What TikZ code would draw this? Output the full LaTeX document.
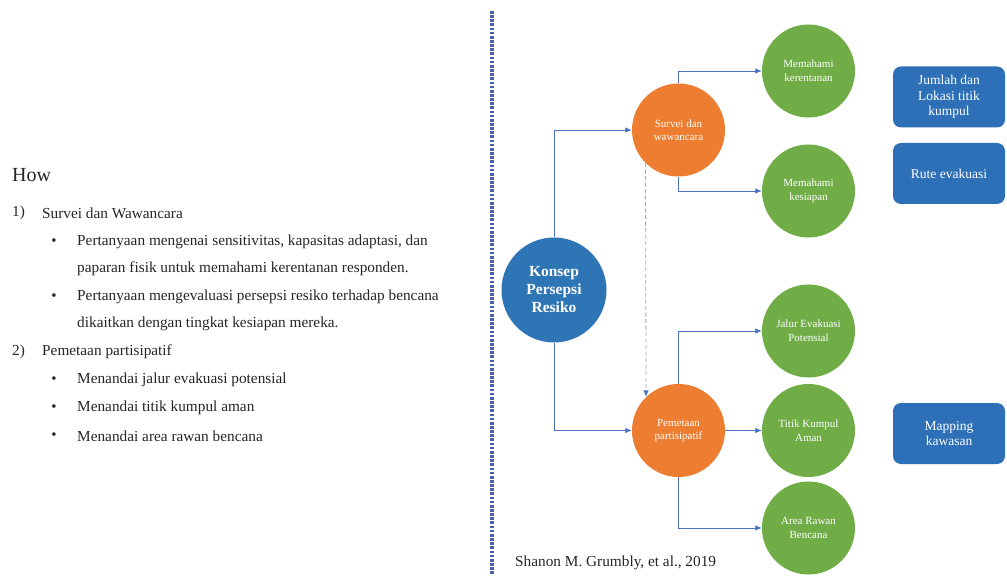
\documentclass[tikz,border=0pt]{standalone}
\usepackage{fontspec}
\setmainfont{Liberation Serif}
\usetikzlibrary{arrows.meta}
\definecolor{konsepblue}{HTML}{2E75B6}
\definecolor{boxblue}{HTML}{2E70B8}
\definecolor{stepor}{HTML}{ED7D31}
\definecolor{stepgreen}{HTML}{70AD47}
\definecolor{linkblue}{HTML}{4A72C0}
\definecolor{sepblue}{HTML}{4A62AC}
\definecolor{bodytext}{HTML}{262626}
\tikzset{
  bigcircle/.style={circle, fill=konsepblue, text=white, minimum size=105pt, inner sep=0pt,
    align=center, font=\fontsize{15.5}{18}\selectfont\bfseries},
  orcircle/.style={circle, fill=stepor, text=white, minimum size=93pt, inner sep=0pt,
    align=center, font=\fontsize{11}{12.5}\selectfont},
  grcircle/.style={circle, fill=stepgreen, text=white, minimum size=93pt, inner sep=0pt,
    align=center, font=\fontsize{11}{14}\selectfont},
  infobox/.style={rectangle, rounded corners=8pt, fill=boxblue, text=white,
    minimum width=112pt, minimum height=61pt, inner sep=0pt,
    align=center, font=\fontsize{13.5}{15.5}\selectfont},
  conn/.style={draw=linkblue, line width=0.8pt, -{Latex[length=6.5pt,width=5.5pt]}},
  dashconn/.style={draw=gray!70, line width=0.8pt, dash pattern=on 4pt off 2.5pt,
    -{Latex[length=6.5pt,width=5.5pt,color=linkblue]}},
  listtext/.style={anchor=west, inner sep=0pt, text=bodytext, font=\fontsize{15.3}{17}\selectfont},
  bulletmark/.style={anchor=center, inner sep=0pt, text=bodytext, font=\fontsize{15}{15}\selectfont},
}
\begin{document}
\begin{tikzpicture}[x=1pt,y=-1pt]
\useasboundingbox[fill=white] (0,0) rectangle (1007,577);

% left column: method outline
\node[listtext, font=\fontsize{20}{22}\selectfont] (how) at (12,175) {How};
\node[listtext] (n1) at (12,213) {1)};
\node[listtext] (t1) at (42,213) {Survei dan Wawancara};
\node[bulletmark] (b1) at (54,242) {\textbullet};
\node[listtext] (t1a) at (77,242) {Pertanyaan mengenai sensitivitas, kapasitas adaptasi, dan};
\node[listtext] (t1b) at (77,269) {paparan fisik untuk memahami kerentanan responden.};
\node[bulletmark] (b2) at (54,297) {\textbullet};
\node[listtext] (t2a) at (77,297) {Pertanyaan mengevaluasi persepsi resiko terhadap bencana};
\node[listtext] (t2b) at (77,324) {dikaitkan dengan tingkat kesiapan mereka.};
\node[listtext] (n2) at (12,352) {2)};
\node[listtext] (t2) at (42,352) {Pemetaan partisipatif};
\node[bulletmark] (b3) at (54,380) {\textbullet};
\node[listtext] (t3) at (77,380) {Menandai jalur evakuasi potensial};
\node[bulletmark] (b4) at (54,408) {\textbullet};
\node[listtext] (t4) at (77,408) {Menandai titik kumpul aman};
\node[bulletmark] (b5) at (54,436) {\textbullet};
\node[listtext] (t5) at (77,436) {Menandai area rawan bencana};

% dotted separator made of small square dots
\foreach \k in {0,...,135}
  \fill[sepblue] (490.4,{11+4.15*\k}) rectangle ++(3.2,2.7);

% concept map
\node[bigcircle] (konsep) at (554,290) {Konsep\\Persepsi\\Resiko};
\node[orcircle] (survei) at (678.5,130) {Survei dan\\wawancara};
\node[orcircle] (pemetaan) at (678.5,430.5) {Pemetaan\\partisipatif};

\node[grcircle] (g1) at (808.5,71) {Memahami\\kerentanan};
\node[grcircle] (g2) at (808.5,191) {Memahami\\kesiapan};
\node[grcircle] (g3) at (808.5,331) {Jalur Evakuasi\\Potensial};
\node[grcircle] (g4) at (808.5,430.5) {Titik Kumpul\\Aman};
\node[grcircle] (g5) at (808.5,528) {Area Rawan\\Bencana};

\node[infobox] (box1) at (949,97) {Jumlah dan\\Lokasi titik\\kumpul};
\node[infobox] (box2) at (949,173.5) {Rute evakuasi};
\node[infobox] (box3) at (949,433.5) {Mapping\\kawasan};

\draw[conn] (konsep.north) |- (survei.west);
\draw[conn] (konsep.south) |- (pemetaan.west);
\draw[conn] (survei.north) |- (g1.west);
\draw[conn] (survei.south) |- (g2.west);
\draw[dashconn] (survei.225.7) -- (pemetaan.134.3);
\draw[conn] (pemetaan.north) |- (g3.west);
\draw[conn] (pemetaan.east) -- (g4.west);
\draw[conn] (pemetaan.south) |- (g5.west);

\node[listtext] (cite) at (515,563) {Shanon M. Grumbly, et al., 2019};
\end{tikzpicture}
\end{document}
